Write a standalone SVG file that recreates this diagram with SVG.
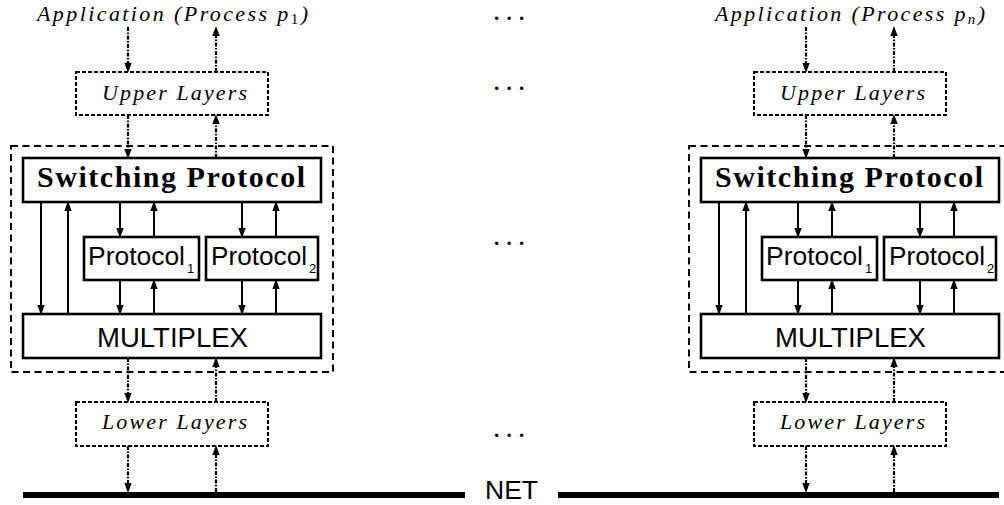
<svg xmlns="http://www.w3.org/2000/svg" width="1004" height="505" viewBox="0 0 1004 505">
  <defs>
    <style>
      .box { fill: #fff; stroke: #000; stroke-width: 2.6; }
      .soft { fill: none; stroke: #000; stroke-width: 2; stroke-dasharray: 4 2; }
      .stack { fill: none; stroke: #000; stroke-width: 2; stroke-dasharray: 7 4.5; }
      .flow { stroke: #000; stroke-width: 2; fill: none; marker-end: url(#head); }
      .dd { stroke: #000; stroke-width: 2.2; fill: none; stroke-dasharray: 4 1.5 1.5 1.5; marker-end: url(#head); }
      .ital { font-family: "Liberation Serif", serif; font-style: italic; font-size: 22px; fill: #000; }
      .bold { font-family: "Liberation Serif", serif; font-weight: bold; font-size: 30px; fill: #000; }
      .sans { font-family: "Liberation Sans", sans-serif; fill: #000; }
      .dots { font-family: "Liberation Serif", serif; font-weight: bold; font-size: 21px; letter-spacing: 7.3px; fill: #000; }
      .net { stroke: #000; stroke-width: 6; }
    </style>
    <marker id="head" markerUnits="userSpaceOnUse" markerWidth="10" markerHeight="8" refX="4" refY="4" orient="auto">
      <path d="M0,0.3 L10,4 L0,7.7 z" fill="#000"/>
    </marker>
  </defs>

  <rect width="1004" height="505" fill="#fff"/>

  <!-- protocol stack of process p1 -->
  <g id="stack-p1"><rect class="stack" x="11" y="146" width="322" height="226"/></g>
  <g id="app-p1"><text class="ital" x="37" y="21" textLength="271" lengthAdjust="spacing">Application (Process p<tspan font-style="normal" font-size="15" dy="3">1</tspan><tspan dy="-3">)</tspan></text></g>
  <g id="upper-p1"><rect class="soft" x="76" y="72" width="192" height="43"/><text class="ital" x="102" y="100" textLength="145" lengthAdjust="spacing">Upper Layers</text></g>
  <g id="switch-p1"><rect class="box" x="23" y="158" width="298" height="44"/><text class="bold" x="37" y="187" textLength="268" lengthAdjust="spacing">Switching Protocol</text></g>
  <g id="proto1-p1"><rect class="box" x="84" y="237" width="115" height="43"/><text class="sans" x="88" y="265" font-size="25.5" textLength="97" lengthAdjust="spacingAndGlyphs">Protocol</text><text class="sans" x="187" y="273" font-size="13">1</text></g>
  <g id="proto2-p1"><rect class="box" x="206" y="237" width="112" height="43"/><text class="sans" x="211" y="265" font-size="25.5" textLength="96" lengthAdjust="spacingAndGlyphs">Protocol</text><text class="sans" x="309" y="273" font-size="13">2</text></g>
  <g id="mux-p1"><rect class="box" x="23" y="314" width="298" height="44"/><text class="sans" x="97" y="347" font-size="27" textLength="151" lengthAdjust="spacingAndGlyphs">MULTIPLEX</text></g>
  <g id="lower-p1"><rect class="soft" x="76" y="402" width="192" height="44"/><text class="ital" x="102" y="429" textLength="145" lengthAdjust="spacing">Lower Layers</text></g>

  <!-- protocol stack of process pn -->
  <g id="stack-pn"><rect class="stack" x="689" y="146" width="322" height="226"/></g>
  <g id="app-pn"><text class="ital" x="715" y="21" textLength="270" lengthAdjust="spacing">Application (Process p<tspan font-size="15" dy="3">n</tspan><tspan dy="-3">)</tspan></text></g>
  <g id="upper-pn"><rect class="soft" x="754" y="72" width="192" height="43"/><text class="ital" x="780" y="100" textLength="145" lengthAdjust="spacing">Upper Layers</text></g>
  <g id="switch-pn"><rect class="box" x="701" y="158" width="298" height="44"/><text class="bold" x="715" y="187" textLength="268" lengthAdjust="spacing">Switching Protocol</text></g>
  <g id="proto1-pn"><rect class="box" x="762" y="237" width="115" height="43"/><text class="sans" x="766" y="265" font-size="25.5" textLength="97" lengthAdjust="spacingAndGlyphs">Protocol</text><text class="sans" x="865" y="273" font-size="13">1</text></g>
  <g id="proto2-pn"><rect class="box" x="884" y="237" width="112" height="43"/><text class="sans" x="889" y="265" font-size="25.5" textLength="96" lengthAdjust="spacingAndGlyphs">Protocol</text><text class="sans" x="987" y="273" font-size="13">2</text></g>
  <g id="mux-pn"><rect class="box" x="701" y="314" width="298" height="44"/><text class="sans" x="775" y="347" font-size="27" textLength="151" lengthAdjust="spacingAndGlyphs">MULTIPLEX</text></g>
  <g id="lower-pn"><rect class="soft" x="754" y="402" width="192" height="44"/><text class="ital" x="780" y="429" textLength="145" lengthAdjust="spacing">Lower Layers</text></g>

  <!-- ellipses between the two stacks -->
  <g id="ellipses">
    <text class="dots" x="494" y="20">...</text>
    <text class="dots" x="494" y="90">...</text>
    <text class="dots" x="494" y="245">...</text>
    <text class="dots" x="494" y="437">...</text>
  </g>

  <!-- shared network -->
  <g id="net">
    <line class="net" x1="23" y1="495" x2="465" y2="495"/>
    <line class="net" x1="558" y1="495" x2="999" y2="495"/>
    <text class="sans" x="485" y="499" font-size="25" textLength="53" lengthAdjust="spacingAndGlyphs">NET</text>
  </g>

  <g id="connectors">
    <g id="links-p1">
      <line class="dd" x1="128" y1="27" x2="128" y2="67"/>
      <line class="dd" x1="216" y1="72" x2="216" y2="32"/>
      <line class="dd" x1="128" y1="115" x2="128" y2="153"/>
      <line class="dd" x1="216" y1="158" x2="216" y2="120"/>
      <line class="dd" x1="128" y1="358" x2="128" y2="397"/>
      <line class="dd" x1="216" y1="402" x2="216" y2="363"/>
      <line class="dd" x1="128" y1="446" x2="128" y2="487"/>
      <line class="dd" x1="216" y1="492" x2="216" y2="451"/>
      <line class="flow" x1="41" y1="202" x2="41" y2="309"/>
      <line class="flow" x1="68" y1="314" x2="68" y2="207" stroke-width="1.4"/>
      <line class="flow" x1="120" y1="202" x2="120" y2="232"/>
      <line class="flow" x1="154" y1="237" x2="154" y2="207"/>
      <line class="flow" x1="120" y1="280" x2="120" y2="309"/>
      <line class="flow" x1="154" y1="314" x2="154" y2="285"/>
      <line class="flow" x1="242" y1="202" x2="242" y2="232"/>
      <line class="flow" x1="276" y1="237" x2="276" y2="207"/>
      <line class="flow" x1="242" y1="280" x2="242" y2="309"/>
      <line class="flow" x1="276" y1="314" x2="276" y2="285"/>
    </g>
    <g id="links-pn" transform="translate(678,0)">
      <line class="dd" x1="128" y1="27" x2="128" y2="67"/>
      <line class="dd" x1="216" y1="72" x2="216" y2="32"/>
      <line class="dd" x1="128" y1="115" x2="128" y2="153"/>
      <line class="dd" x1="216" y1="158" x2="216" y2="120"/>
      <line class="dd" x1="128" y1="358" x2="128" y2="397"/>
      <line class="dd" x1="216" y1="402" x2="216" y2="363"/>
      <line class="dd" x1="128" y1="446" x2="128" y2="487"/>
      <line class="dd" x1="216" y1="492" x2="216" y2="451"/>
      <line class="flow" x1="41" y1="202" x2="41" y2="309"/>
      <line class="flow" x1="68" y1="314" x2="68" y2="207"/>
      <line class="flow" x1="120" y1="202" x2="120" y2="232"/>
      <line class="flow" x1="154" y1="237" x2="154" y2="207"/>
      <line class="flow" x1="120" y1="280" x2="120" y2="309"/>
      <line class="flow" x1="154" y1="314" x2="154" y2="285"/>
      <line class="flow" x1="242" y1="202" x2="242" y2="232"/>
      <line class="flow" x1="276" y1="237" x2="276" y2="207"/>
      <line class="flow" x1="242" y1="280" x2="242" y2="309"/>
      <line class="flow" x1="276" y1="314" x2="276" y2="285"/>
    </g>
  </g>
</svg>
